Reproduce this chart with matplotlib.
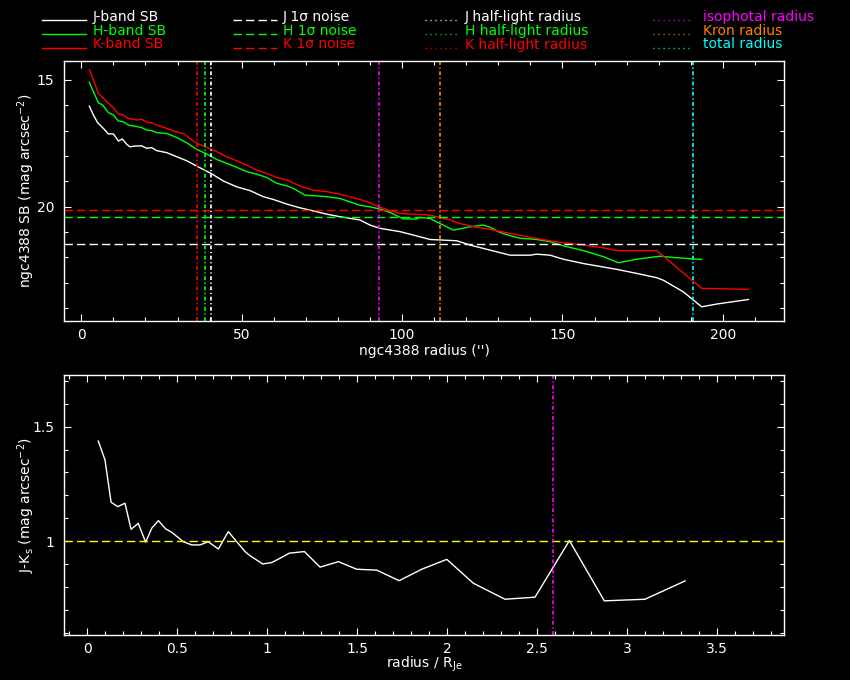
import matplotlib
matplotlib.use("Agg")
import matplotlib.pyplot as plt
from matplotlib.lines import Line2D
from matplotlib.ticker import MultipleLocator, FuncFormatter

# ---------------- data ----------------
r_J = [2.50, 3.75, 5.10, 6.87, 8.43, 9.99, 11.53, 12.79, 14.14, 15.18, 16.74, 18.82, 20.38, 21.93,
       23.49, 26.61, 29.73, 32.85, 35.96, 40.43, 44.28, 48.43, 52.59, 56.75, 59.86, 64.02, 68.17,
       72.33, 76.49, 80.64, 86.88, 89.99, 93.11, 99.35, 104.54, 108.70, 117.01, 121.17, 127.40,
       133.64, 139.87, 141.95, 146.11, 150.27, 156.50, 166.90, 173.13, 179.37, 181.45, 187.69,
       193.40, 198.08, 207.95]
sb_J = [16.03, 16.38, 16.69, 16.91, 17.13, 17.13, 17.41, 17.33, 17.54, 17.64, 17.61, 17.60, 17.70, 17.67,
        17.79, 17.87, 18.03, 18.19, 18.40, 18.69, 18.99, 19.22, 19.37, 19.61, 19.72, 19.90, 20.05,
        20.17, 20.30, 20.40, 20.53, 20.73, 20.86, 20.99, 21.16, 21.30, 21.35, 21.52, 21.72,
        21.92, 21.92, 21.88, 21.92, 22.08, 22.25, 22.48, 22.64, 22.81, 22.91, 23.37,
        23.96, 23.85, 23.67]

r_H = [2.50, 3.75, 5.31, 6.66, 8.43, 9.99, 11.53, 13.10, 14.66, 17.26, 18.82, 20.38, 21.93, 23.49,
       26.61, 29.73, 32.85, 35.96, 39.08, 42.20, 45.32, 48.43, 51.55, 54.67, 57.78, 60.90, 64.02,
       66.09, 69.73, 73.37, 76.49, 80.64, 86.88, 89.99, 93.11, 96.23, 100.39, 104.54, 105.58,
       108.70, 111.82, 115.97, 121.17, 125.32, 127.40, 130.52, 133.64, 136.76, 141.95, 146.11,
       150.27, 156.50, 162.74, 167.42, 173.13, 180.41, 184.57, 189.77, 193.40]
sb_H = [15.09, 15.46, 15.90, 15.99, 16.29, 16.38, 16.62, 16.65, 16.78, 16.84, 16.88, 16.98, 17.00, 17.08,
        17.11, 17.27, 17.48, 17.74, 17.92, 18.14, 18.29, 18.45, 18.62, 18.72, 18.85, 19.08, 19.18,
        19.28, 19.55, 19.58, 19.61, 19.68, 19.95, 20.01, 20.10, 20.23, 20.49, 20.49, 20.43,
        20.47, 20.67, 20.93, 20.80, 20.73, 20.82, 21.02, 21.15, 21.25, 21.30, 21.39,
        21.55, 21.74, 21.98, 22.22, 22.08, 21.96, 22.01, 22.06, 22.09]

r_K = [2.50, 3.75, 5.31, 6.87, 8.43, 9.99, 11.53, 13.10, 14.66, 17.26, 18.82, 20.38, 21.93, 23.49,
       26.61, 29.21, 31.81, 33.88, 35.96, 39.08, 42.20, 45.32, 48.43, 51.55, 54.67, 57.78, 60.90,
       64.02, 68.17, 72.33, 76.49, 80.64, 86.88, 89.99, 93.11, 96.23, 99.35, 104.54, 108.70,
       111.82, 114.93, 118.05, 123.25, 127.40, 133.64, 139.87, 146.11, 150.27, 156.50, 162.74,
       166.90, 179.37, 193.40, 207.95]
sb_K = [14.60, 15.00, 15.53, 15.72, 15.92, 16.09, 16.34, 16.38, 16.52, 16.58, 16.55, 16.67, 16.69, 16.78,
        16.91, 17.04, 17.11, 17.31, 17.50, 17.66, 17.83, 18.03, 18.19, 18.36, 18.56, 18.69, 18.85,
        18.95, 19.19, 19.35, 19.41, 19.51, 19.72, 19.85, 20.03, 20.16, 20.27, 20.31, 20.34,
        20.43, 20.53, 20.67, 20.82, 20.90, 21.06, 21.21, 21.35, 21.43, 21.52, 21.63,
        21.74, 21.74, 23.23, 23.27]

noise_J, noise_H, noise_K = 21.48, 20.41, 20.13
rhalf_J, rhalf_H, rhalf_K = 40.4, 38.7, 36.2
r_iso, r_kron, r_tot = 92.9, 111.9, 190.8

x_col = [0.061, 0.098, 0.132, 0.169, 0.209, 0.243, 0.283, 0.324, 0.358, 0.395, 0.435, 0.469, 0.533,
         0.580, 0.626, 0.672, 0.728, 0.783, 0.830, 0.876, 0.904, 0.974, 1.024, 1.071, 1.122, 1.206,
         1.293, 1.395, 1.496, 1.608, 1.732, 1.858, 1.997, 2.144, 2.320, 2.487, 2.678, 2.872, 3.098, 3.321]
jk_col = [1.437, 1.355, 1.170, 1.151, 1.166, 1.052, 1.078, 0.996, 1.057, 1.090, 1.054, 1.039, 0.998,
          0.984, 0.984, 0.998, 0.966, 1.042, 0.998, 0.955, 0.937, 0.901, 0.907, 0.926, 0.948, 0.955,
          0.887, 0.911, 0.878, 0.874, 0.828, 0.878, 0.921, 0.817, 0.747, 0.756, 1.003, 0.740, 0.747, 0.827]
iso_rel = 2.585
jk_ref = 1.0

WHITE, GREEN, RED = "#ffffff", "#00ff00", "#ff0000"
MAG, ORANGE, CYAN, YELLOW = "#ff00ff", "#ff8000", "#00ffff", "#ffff00"

plt.rcParams["font.family"] = ["DejaVu Sans"]
plt.rcParams["font.size"] = 10

fig = plt.figure(figsize=(8.5, 6.8), dpi=100, facecolor="black")
W, H = 850.0, 680.0

def ax_rect(l, t, r, b):
    return [l / W, 1 - b / H, (r - l) / W, (b - t) / H]

ax1 = fig.add_axes(ax_rect(64, 61, 784, 321), facecolor="black")
ax2 = fig.add_axes(ax_rect(64.3, 375.3, 784.3, 635), facecolor="black")

DASH = (0, (6.0, 3.0))
DOT = (0, (2.2, 1.5, 0.7, 1.5))
LW = 1.0
VLW = 1.25

def style(ax):
    for s in ax.spines.values():
        s.set_color("white")
        s.set_linewidth(1.0)
    ax.tick_params(which="both", direction="in", top=True, right=True, colors="white",
                   width=0.8, labelsize=10)
    ax.tick_params(which="major", length=5.2, pad=5)
    ax.tick_params(which="minor", length=2.8)
    ax.tick_params(axis="y", pad=7)

# ---- top panel ----
ax1.plot(r_J, sb_J, color=WHITE, lw=LW)
ax1.plot(r_H, sb_H, color=GREEN, lw=LW)
ax1.plot(r_K, sb_K, color=RED, lw=LW)
ax1.axhline(noise_J, color=WHITE, lw=LW, linestyle=DASH)
ax1.axhline(noise_H, color=GREEN, lw=LW, linestyle=DASH)
ax1.axhline(noise_K, color=RED, lw=LW, linestyle=DASH)
for xv, c in [(rhalf_J, WHITE), (rhalf_H, GREEN), (rhalf_K, RED),
              (r_iso, MAG), (r_kron, ORANGE), (r_tot, CYAN)]:
    ax1.axvline(xv, color=c, lw=VLW, linestyle=DOT)
ax1.set_xlim(-5.4, 219.05)
ax1.set_ylim(24.52, 14.25)
ax1.xaxis.set_major_locator(MultipleLocator(50))
ax1.xaxis.set_minor_locator(MultipleLocator(10))
ax1.yaxis.set_major_locator(MultipleLocator(5))
ax1.yaxis.set_minor_locator(MultipleLocator(1))
ax1.xaxis.set_major_formatter(FuncFormatter(lambda v, p: "%g" % v))
ax1.yaxis.set_major_formatter(FuncFormatter(lambda v, p: "%g" % v))
style(ax1)
ax1.set_xlabel("ngc4388 radius ('')", color="white", fontsize=10)
ax1.set_ylabel(r"ngc4388 SB (mag arcsec$^{-2}$)", color="white", fontsize=10)
ax1.xaxis.set_label_coords(0.5, -0.09)
ax1.yaxis.set_label_coords(-0.038, 0.5)

# ---- bottom panel ----
ax2.plot(x_col, jk_col, color=WHITE, lw=LW)
ax2.axhline(jk_ref, color=YELLOW, lw=LW, linestyle=DASH)
ax2.axvline(iso_rel, color=MAG, lw=VLW, linestyle=DOT)
ax2.set_xlim(-0.128, 3.872)
ax2.set_ylim(0.591, 1.724)
ax2.xaxis.set_major_locator(MultipleLocator(0.5))
ax2.xaxis.set_minor_locator(MultipleLocator(0.1))
ax2.yaxis.set_major_locator(MultipleLocator(0.5))
ax2.yaxis.set_minor_locator(MultipleLocator(0.1))
ax2.xaxis.set_major_formatter(FuncFormatter(lambda v, p: "%g" % round(v, 2)))
ax2.yaxis.set_major_formatter(FuncFormatter(lambda v, p: "%g" % round(v, 2)))
style(ax2)
ax2.set_xlabel(r"radius / R$_{\rm Je}$", color="white", fontsize=10)
ax2.set_ylabel(r"J-K$_{\rm s}$ (mag arcsec$^{-2}$)", color="white", fontsize=10)
ax2.xaxis.set_label_coords(0.5, -0.075)
ax2.yaxis.set_label_coords(-0.038, 0.5)

# ---- legend header ----
cols = [
    (42, 86, 93, "-", [("J-band SB", WHITE), ("H-band SB", GREEN), ("K-band SB", RED)]),
    (233, 277, 283, DASH, [("J 1σ noise", WHITE), ("H 1σ noise", GREEN), ("K 1σ noise", RED)]),
    (425, 457, 465, (0, (0.8, 2.8)), [("J half-light radius", WHITE), ("H half-light radius", GREEN),
                                       ("K half-light radius", RED)]),
    (653, 693, 703, (0, (0.8, 2.8)), [("isophotal radius", MAG), ("Kron radius", ORANGE),
                                       ("total radius", CYAN)]),
]
rows_text = [21.5, 35, 48.5]
rows_line = [20, 34, 47.5]
for x0, x1, xt, ls, items in cols:
    for (txt, c), yt, yl in zip(items, rows_text, rows_line):
        fig.add_artist(Line2D([x0 / W, x1 / W], [1 - yl / H, 1 - yl / H], color=c, lw=1.0,
                              linestyle=ls, transform=fig.transFigure))
        fig.text(xt / W, 1 - yt / H, txt, color=c, fontsize=10, ha="left", va="baseline")

fig.savefig("out.png", dpi=100, facecolor="black")
